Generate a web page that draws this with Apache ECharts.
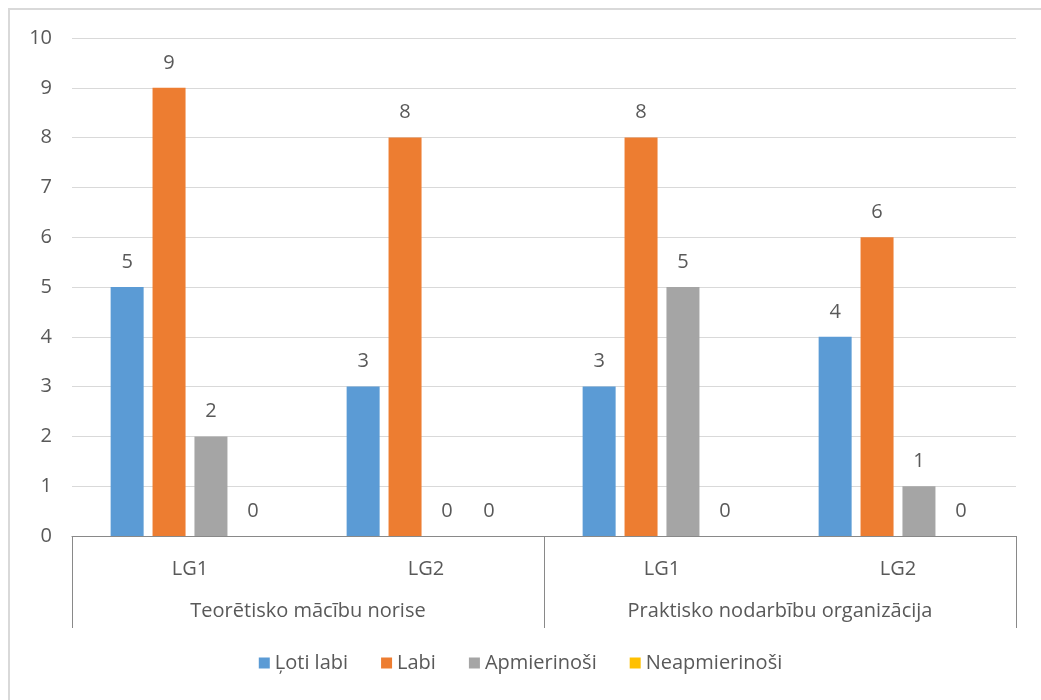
<!DOCTYPE html>
<html>
<head>
<meta charset="utf-8">
<script src="https://cdn.jsdelivr.net/npm/echarts@6/dist/echarts.min.js"></script>
<style>
html,body{margin:0;padding:0;background:#fff;}
#c{width:1041px;height:700px;}
</style>
</head>
<body>
<div id="c"></div>
<script>
var subCategories = ['LG1', 'LG2', 'LG1', 'LG2'];
var groupCategories = ['Teorētisko mācību norise', 'Praktisko nodarbību organizācija'];
var seriesNames = ['Ļoti labi', 'Labi', 'Apmierinoši', 'Neapmierinoši'];
var lotiLabi = [5, 3, 3, 4];
var labi = [9, 8, 8, 6];
var apmierinosi = [2, 0, 5, 1];
var neapmierinosi = [0, 0, 0, 0];
var yTicks = [0, 1, 2, 3, 4, 5, 6, 7, 8, 9, 10];

var colors = ['#5B9BD5', '#ED7D31', '#A5A5A5', '#FFC000'];
var FONT = 'Open Sans';
var TXT = '#595959';
var FS = 20;

function mkSeries(name, data, color) {
  return {
    name: name,
    type: 'bar',
    data: data,
    barWidth: 33,
    barGap: '27%',
    itemStyle: { color: color },
    label: {
      show: true,
      position: 'top',
      distance: 15,
      color: TXT,
      fontSize: FS,
      fontFamily: FONT
    }
  };
}

var chart = echarts.init(document.getElementById('c'), null, { renderer: 'canvas' });
chart.setOption({
  animation: false,
  backgroundColor: '#fff',
  color: colors,
  graphic: [{
    type: 'rect',
    shape: { x: 9, y: 9, width: 1100, height: 800 },
    style: { fill: 'none', stroke: '#D9D9D9', lineWidth: 2 },
    silent: true
  }],
  grid: { left: 72, right: 25, top: 38, bottom: 164 },
  legend: {
    bottom: 22,
    left: 'center',
    itemWidth: 11,
    itemHeight: 11,
    itemGap: 33,
    icon: 'rect',
    data: seriesNames,
    textStyle: { color: TXT, fontSize: FS, fontFamily: FONT }
  },
  xAxis: [{
    type: 'category',
    data: subCategories,
    position: 'bottom',
    axisLine: { show: true, lineStyle: { color: '#898989', width: 1 } },
    axisTick: { show: false },
    axisLabel: { color: TXT, fontSize: FS, fontFamily: FONT, margin: 23, interval: 0 },
    splitLine: { show: false }
  }, {
    type: 'category',
    data: groupCategories,
    position: 'bottom',
    axisLine: { show: false },
    axisTick: { show: true, length: 92, interval: 0, lineStyle: { color: '#898989', width: 1 } },
    axisLabel: { color: TXT, fontSize: FS, fontFamily: FONT, margin: 65, interval: 0 },
    splitLine: { show: false }
  }],
  yAxis: {
    type: 'value',
    min: yTicks[0],
    max: yTicks[yTicks.length - 1],
    interval: 1,
    axisLine: { show: false },
    axisTick: { show: false },
    axisLabel: { color: TXT, fontSize: FS, fontFamily: FONT, margin: 20 },
    splitLine: { lineStyle: { color: '#D9D9D9', width: 1 } }
  },
  series: [
    mkSeries(seriesNames[0], lotiLabi, colors[0]),
    mkSeries(seriesNames[1], labi, colors[1]),
    mkSeries(seriesNames[2], apmierinosi, colors[2]),
    mkSeries(seriesNames[3], neapmierinosi, colors[3])
  ]
});
</script>
</body>
</html>
